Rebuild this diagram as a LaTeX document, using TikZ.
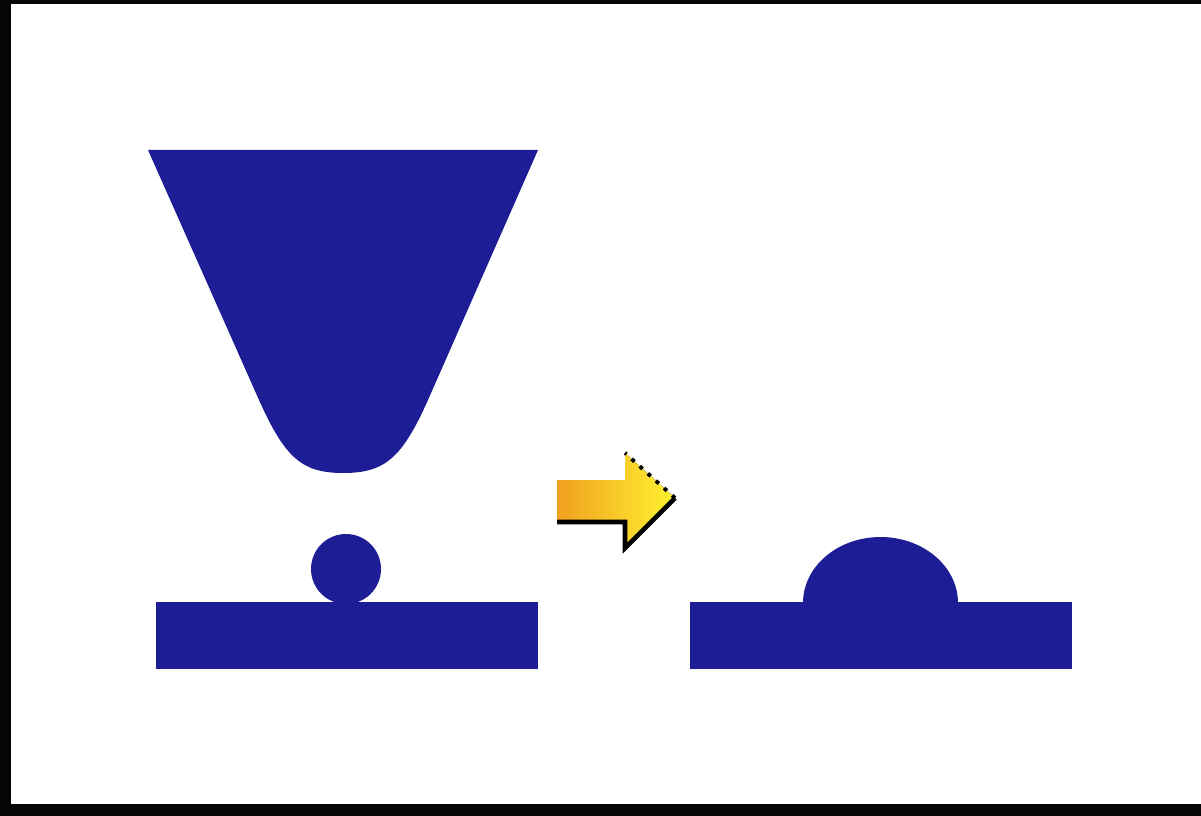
\documentclass[tikz,border=0pt]{standalone}
\usepackage{tikz}
\usetikzlibrary{calc}
\definecolor{navy}{HTML}{1D1D96}
\definecolor{frame}{HTML}{050505}
\definecolor{orange}{HTML}{F0A020}
\definecolor{yellow}{HTML}{FFF230}
\begin{document}
\begin{tikzpicture}[x=0.01cm,y=-0.01cm]
  \useasboundingbox (0,0) rectangle (1201,816);
  % frame
  \fill[frame] (0,0) rectangle (11,816); \fill[frame] (0,0) rectangle (1201,4); \fill[frame] (0,804) rectangle (1201,816);
  % funnel
  \fill[navy] (148,150) -- (538,150) -- (428,400) .. controls (402,458) and (385,473) .. (343,473)
    .. controls (302,473) and (285,458) .. (259,400) -- cycle;
  % before: ball on plate
  \fill[navy] (156,602) rectangle (538,669);
  \fill[navy] (346,569) circle[radius=35];
  % arrow
  \fill[left color=orange,right color=yellow] (557,480) -- (625,480) -- (625,453) -- (675,498) -- (625,548) -- (625,522) -- (557,522) -- cycle;
  \draw[black,line width=1.3pt] (557,522) -- (625,522) -- (625,548) -- (675,498);
  \draw[black,line width=1.1pt,dotted] (675,498) -- (625,453);
  % after: flattened ball on plate
  \fill[navy] (690,602) rectangle (1072,669);
  \fill[navy] (803,603) arc[start angle=180,end angle=360,x radius=77.5,y radius=66] -- cycle;
\end{tikzpicture}
\end{document}
